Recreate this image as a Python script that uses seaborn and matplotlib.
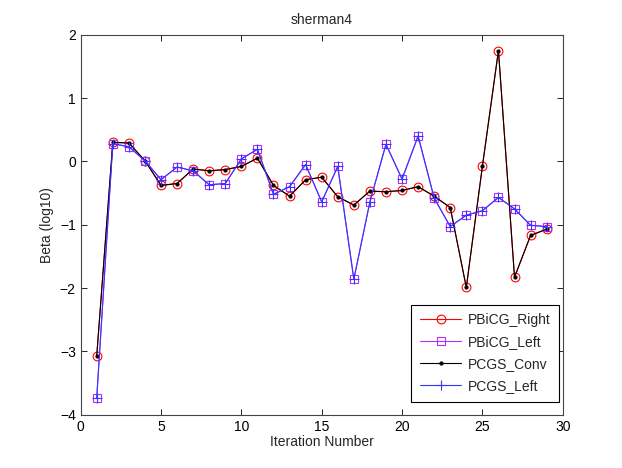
import matplotlib
matplotlib.use("Agg")
import matplotlib.pyplot as plt
import pandas as pd
import seaborn as sns

# iteration numbers 1..29
iterations = list(range(1, 30))

# PBiCG_Right and PCGS_Conv share the same values
beta_right = [-3.07, 0.30, 0.29, 0.01, -0.38, -0.35, -0.12, -0.15, -0.13, -0.08,
              0.05, -0.38, -0.55, -0.29, -0.25, -0.56, -0.69, -0.47, -0.48, -0.46,
              -0.40, -0.55, -0.73, -1.99, -0.08, 1.75, -1.83, -1.17, -1.07]

# PBiCG_Left and PCGS_Left share the same values
beta_left = [-3.73, 0.28, 0.23, 0.01, -0.29, -0.09, -0.15, -0.37, -0.35, 0.04,
             0.19, -0.52, -0.40, -0.05, -0.64, -0.08, -1.86, -0.64, 0.27, -0.28,
             0.40, -0.58, -1.03, -0.85, -0.78, -0.57, -0.75, -1.01, -1.03]

series = ["PBiCG_Right", "PBiCG_Left", "PCGS_Conv", "PCGS_Left"]
series_values = [beta_right, beta_left, beta_right, beta_left]

styles = {
    "PBiCG_Right": dict(color="red", marker="o", markersize=6.3,
                        markerfacecolor="none", markeredgecolor="red"),
    "PBiCG_Left": dict(color="#b030ff", marker="s", markersize=5.5,
                       markerfacecolor="none", markeredgecolor="#b030ff"),
    "PCGS_Conv": dict(color="black", marker=".", markersize=4.5,
                      markerfacecolor="black", markeredgecolor="black"),
    "PCGS_Left": dict(color="#3535ff", marker="+", markersize=6.5,
                      markeredgecolor="#3535ff"),
}

sns.set_style("ticks")
plt.rcParams["font.family"] = ["Liberation Sans", "DejaVu Sans"]
plt.rcParams["font.size"] = 10

fig = plt.figure(figsize=(6.22, 4.68), dpi=100)
ax = fig.add_axes([0.1297, 0.1139, 0.775, 0.812])

for name, vals in zip(series, series_values):
    df = pd.DataFrame({"iter": iterations, "beta": vals})
    sns.lineplot(data=df, x="iter", y="beta", ax=ax, label=name,
                 linewidth=0.8, markeredgewidth=0.8, **styles[name])

ax.set_xlim(0, 30)
ax.set_ylim(-4, 2)
ax.set_xticks(range(0, 31, 5))
ax.set_yticks(range(-4, 3, 1))
ax.tick_params(direction="in", top=True, right=True, length=4, width=0.6,
               labelsize=10, colors="black")
for sp in ax.spines.values():
    sp.set_visible(True)
    sp.set_linewidth(0.8)
    sp.set_color("#444444")

ax.set_title("sherman4", fontsize=10, pad=8)
ax.set_xlabel("Iteration Number", fontsize=10, labelpad=1)
ax.set_ylabel("Beta (log10)", fontsize=10)

leg = ax.legend(loc="lower right", bbox_to_anchor=(1 - 4 / 482, 13 / 380),
                borderaxespad=0, fontsize=10, fancybox=False, framealpha=1,
                edgecolor="black", handlelength=3.0, handletextpad=0.45,
                labelspacing=0.58, borderpad=0.6)
leg.get_frame().set_linewidth(0.8)

fig.savefig("out.png", dpi=100)
